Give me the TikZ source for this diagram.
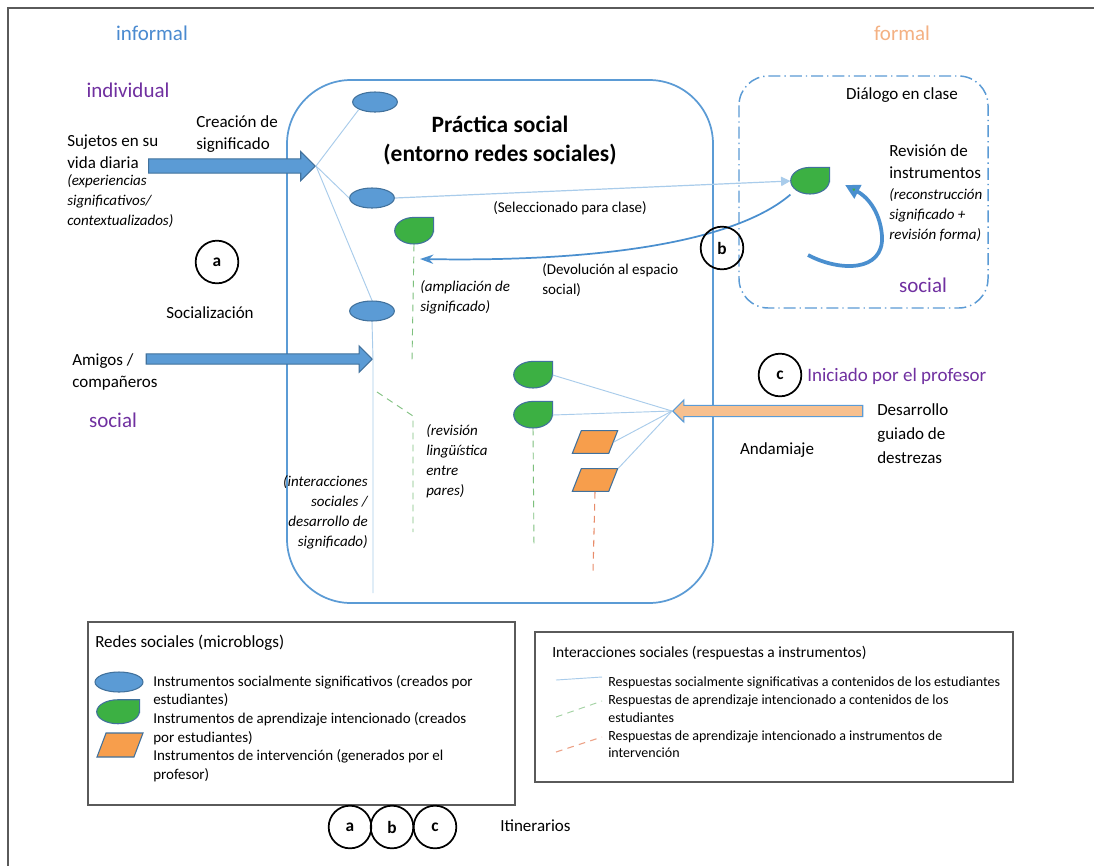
\documentclass[tikz,border=0pt]{standalone}
\usepackage{fontspec}
\setmainfont{Carlito}
\usepackage{xcolor}
\usepackage{tikz}
\usetikzlibrary{shapes.geometric, shapes.arrows, arrows.meta}

\definecolor{infoblue}{HTML}{4A8AD0}
\definecolor{socpurple}{HTML}{7030A0}
\definecolor{formorange}{HTML}{F4B183}
\definecolor{boxblue}{HTML}{5B9BD5}
\definecolor{fillblue}{HTML}{5B9BD5}
\definecolor{edgeblue}{HTML}{41719C}
\definecolor{dropgreen}{HTML}{3CB043}
\definecolor{intervorange}{HTML}{F79E4C}
\definecolor{scaffold}{HTML}{F7C08F}
\definecolor{faintblue}{HTML}{A9CCEB}
\definecolor{linkblue}{HTML}{4A8FCF}
\definecolor{peergreen}{HTML}{7DC07D}
\definecolor{teachorange}{HTML}{E88C6A}
\definecolor{framegrey}{HTML}{5A5A5A}

\tikzset{
  lab/.style={inner sep=0pt, align=left, font=\fontsize{12.75}{16.5}\selectfont},
  remark/.style={inner sep=0pt, align=left, font=\fontsize{11.25}{15}\selectfont},
  note/.style={inner sep=0pt, align=left, font=\itshape\fontsize{11.25}{15}\selectfont},
  heading/.style={inner sep=0pt, font=\fontsize{15.75}{18}\selectfont},
  inst/.style={ellipse, draw=edgeblue, fill=fillblue, line width=0.8pt,
    minimum width=33.5pt, minimum height=15pt, inner sep=0pt},
  drop/.style={rectangle, minimum width=29pt, minimum height=20pt, inner sep=0pt},
  dropfill/.style={draw=edgeblue, fill=dropgreen, line width=0.8pt},
  interv/.style={trapezium, trapezium left angle=72, trapezium right angle=108,
    trapezium stretches=true, minimum width=34pt, minimum height=17pt,
    draw=edgeblue, fill=intervorange, line width=0.8pt, inner sep=1pt},
  itin/.style={circle, draw=black, line width=1.3pt, minimum size=32pt, inner sep=0pt,
    font=\bfseries\fontsize{13}{15}\selectfont},
  bigarrow/.style={single arrow, draw=edgeblue, fill=fillblue, line width=0.8pt,
    inner xsep=1pt, text height=0pt, text depth=0pt,
    single arrow tip angle=90, single arrow head indent=0pt},
  faint/.style={draw=faintblue, line width=0.7pt},
  gdash/.style={draw=peergreen, line width=0.7pt, dash pattern=on 5pt off 4pt},
  odash/.style={draw=teachorange, line width=0.8pt, dash pattern=on 5pt off 4pt},
  legbox/.style={draw=framegrey, line width=0.9pt}
}

\begin{document}
\begin{tikzpicture}[x=0.75pt, y=-0.75pt]
\useasboundingbox[fill=white] (0,0) rectangle (1094,865);
\draw[framegrey, line width=1.1pt] (8,8) rectangle (1120,890);

% spaces
\draw[boxblue, line width=1.3pt, rounded corners=48pt] (287,80) rectangle (713,603);
\draw[boxblue, line width=1.1pt, rounded corners=22pt,
  dash pattern=on 9pt off 3pt on 1pt off 3pt] (739,76) rectangle (988,308);

% headings
\node[heading, text=infoblue] (inf) at (152,33) {informal};
\node[heading, text=formorange] (form) at (902,33) {formal};
\node[heading, text=socpurple] (indiv) at (128,90) {individual};
\node[heading, text=socpurple] (socl) at (113,420) {social};
\node[heading, text=socpurple] (socr) at (923,285) {social};
\node[inner sep=0pt, align=center, font=\bfseries\fontsize{17.6}{21.75}\selectfont]
  (prac) at (500,141) {Práctica social\\(entorno redes sociales)};

% left side
\node[lab, anchor=west] (suj) at (67,152) {Sujetos en su\\vida diaria};
\node[note, anchor=west] (sujit) at (67,201) {(experiencias\\significativos/\\contextualizados)};
\node[lab, anchor=west] (crea) at (196,134) {Creación de\\significado};
\node[lab] (soc) at (210,313) {Socialización};
\node[lab, anchor=west] (amig) at (72,372) {Amigos /\\compañeros};
\node[note, anchor=east, align=right] (inter) at (368,512)
  {(interacciones\\sociales /\\desarrollo de\\significado)};

% instruments
\node[inst] (e1) at (375,102) {};
\node[inst] (e2) at (372,198) {};
\node[inst] (e3) at (372,311) {};
\node[drop] (g1) at (414,231) {};
\node[drop] (g2) at (810,181) {};
\node[drop] (g3) at (533,375) {};
\node[drop] (g4) at (533,415) {};
\node[interv] (p1) at (595,442) {};
\node[interv] (p2) at (595,480) {};
\foreach \n in {g1,g2,g3,g4} {
  \draw[dropfill] (\n.east) -- (\n.north east) -- (\n.north)
    arc[start angle=270, end angle=0, x radius=19.3, y radius=13.3] -- cycle;
}

% hubs and free ends
\coordinate (hubA) at (316,166);
\coordinate (hubB) at (373,359);
\coordinate (hubC) at (672,411);
\coordinate (botB) at (373,593);
\coordinate (gA) at (412,360);
\coordinate (pA) at (377,392);
\coordinate (pB) at (413,416);
\coordinate (pC) at (413,532);
\coordinate (gB) at (534,547);
\coordinate (oB) at (593,572);
\coordinate (ret) at (420,259);
\coordinate (lp) at (808,255);
\coordinate (lq) at (845,185);

\node[bigarrow, inner ysep=4.9pt, single arrow head extend=5.6pt,
  minimum height=125pt, anchor=tip] (arrA) at (hubA) {};
\node[bigarrow, inner ysep=3.4pt, single arrow head extend=6pt,
  minimum height=169.5pt, anchor=tip] (arrB) at (hubB) {};
\node[bigarrow, fill=scaffold, draw=boxblue, inner ysep=3.8pt, single arrow head extend=4.1pt,
  shape border rotate=180, minimum height=142.5pt, anchor=tip] (arrC) at (hubC) {};

\draw[faint] (hubA) -- (e1.south west);
\draw[faint] (hubA) -- (e2.west);
\draw[faint] (hubA) -- (e3.north);
\draw[faint] (e3.south) -- (hubB) -- (botB);
\draw[faint] (hubC) -- (g3.east);
\draw[faint] (hubC) -- (g4.east);
\draw[faint] (hubC) -- (p1.east);
\draw[faint] (hubC) -- (p2.top right corner);
\draw[gdash] (g1.south) -- (gA);
\draw[gdash] (pA) -- (pB) -- (pC);
\draw[gdash] (g4.south) -- (gB);
\draw[odash] (p2.south) -- (oB);

\draw[faint, line width=0.9pt, -{Triangle[length=7pt, width=7pt, fill=faintblue]}]
  (e2.east) -- (g2.west);
\draw[linkblue, line width=1.3pt, -{Stealth[length=10pt, width=7pt, fill=faintblue]}]
  (g2.south west) .. controls (735,242) and (600,262) .. (ret);
\draw[linkblue, line width=2.8pt, -{Triangle[length=11pt, width=11pt, fill=dropgreen]}]
  (lp) .. controls (840,272) and (884,272) .. (882,236)
  .. controls (880,210) and (866,196) .. (lq);

\node[remark] (sel) at (570,208) {(Seleccionado para clase)};
\node[remark, anchor=west] (devol) at (542,280) {(Devolución al espacio\\social)};
\node[note, anchor=west] (ampl) at (420,297) {(ampliación de\\significado)};
\node[note, anchor=west] (revl) at (426,461) {(revisión\\lingüística\\entre\\pares)};

% right side
\node[lab] (dial) at (902,95) {Diálogo en clase};
\node[lab, anchor=west] (revi) at (889,162) {Revisión de\\instrumentos};
\node[note, anchor=west] (revit) at (889,215) {(reconstrucción\\significado +\\revisión forma)};
\node[itin] (cc) at (780,375) {c};
\node[inner sep=0pt, anchor=west, text=socpurple, font=\fontsize{14.25}{16}\selectfont]
  (iniz) at (807,376) {Iniciado por el profesor};
\node[lab, anchor=west, font=\fontsize{12.75}{18}\selectfont] (desa) at (877,434)
  {Desarrollo\\guiado de\\destrezas};
\node[lab] (andam) at (777,450) {Andamiaje};
\node[itin] (ca) at (217,262) {a};
\node[itin] (cb) at (722,248) {b};

% legend: microblogs
\draw[legbox] (88,622) rectangle (515,805);
\node[lab, anchor=west] (leg1) at (95,643) {Redes sociales (microblogs)};
\node[inst, minimum width=36pt] (le) at (119,682) {};
\node[drop, minimum width=32pt, minimum height=18pt] (lg) at (118,712) {};
\draw[dropfill] (lg.east) -- (lg.north east) -- (lg.north)
  arc[start angle=270, end angle=0, x radius=21.3, y radius=12] -- cycle;
\node[interv, minimum width=34.5pt, minimum height=18pt] (lp1) at (120,745) {};
\node[inner sep=0pt, align=left, anchor=west, font=\fontsize{11.25}{14}\selectfont]
  (leg1t) at (153,728.5) {Instrumentos socialmente significativos (creados por\\estudiantes)\\
  Instrumentos de aprendizaje intencionado (creados\\por estudiantes)\\
  Instrumentos de intervención (generados por el\\profesor)};

% legend: interactions
\draw[legbox] (535,632) rectangle (1013,782);
\node[inner sep=0pt, anchor=west, font=\fontsize{11.6}{14}\selectfont]
  (leg2) at (552,653) {Interacciones sociales (respuestas a instrumentos)};
\node[inner sep=0pt, align=left, anchor=west, font=\fontsize{10.5}{13.3}\selectfont]
  (leg2t) at (608,717.5) {Respuestas socialmente significativas a contenidos de los estudiantes\\
  Respuestas de aprendizaje intencionado a contenidos de los\\estudiantes\\
  Respuestas de aprendizaje intencionado a instrumentos de\\intervención};
\coordinate (s1a) at (556,680);
\coordinate (s1b) at (602,677);
\coordinate (s2a) at (556,717);
\coordinate (s2b) at (602,701);
\coordinate (s3a) at (556,752);
\coordinate (s3b) at (602,737);
\draw[faint] (s1a) -- (s1b);
\draw[gdash, draw=peergreen!70] (s2a) -- (s2b);
\draw[odash, draw=teachorange!80] (s3a) -- (s3b);

% itineraries
\node[itin] (ia) at (350,827) {a};
\node[itin] (ib) at (392,827) {b};
\node[itin] (ic) at (435,827) {c};
\node[lab, anchor=west] (itn) at (500,826) {Itinerarios};
\end{tikzpicture}
\end{document}
